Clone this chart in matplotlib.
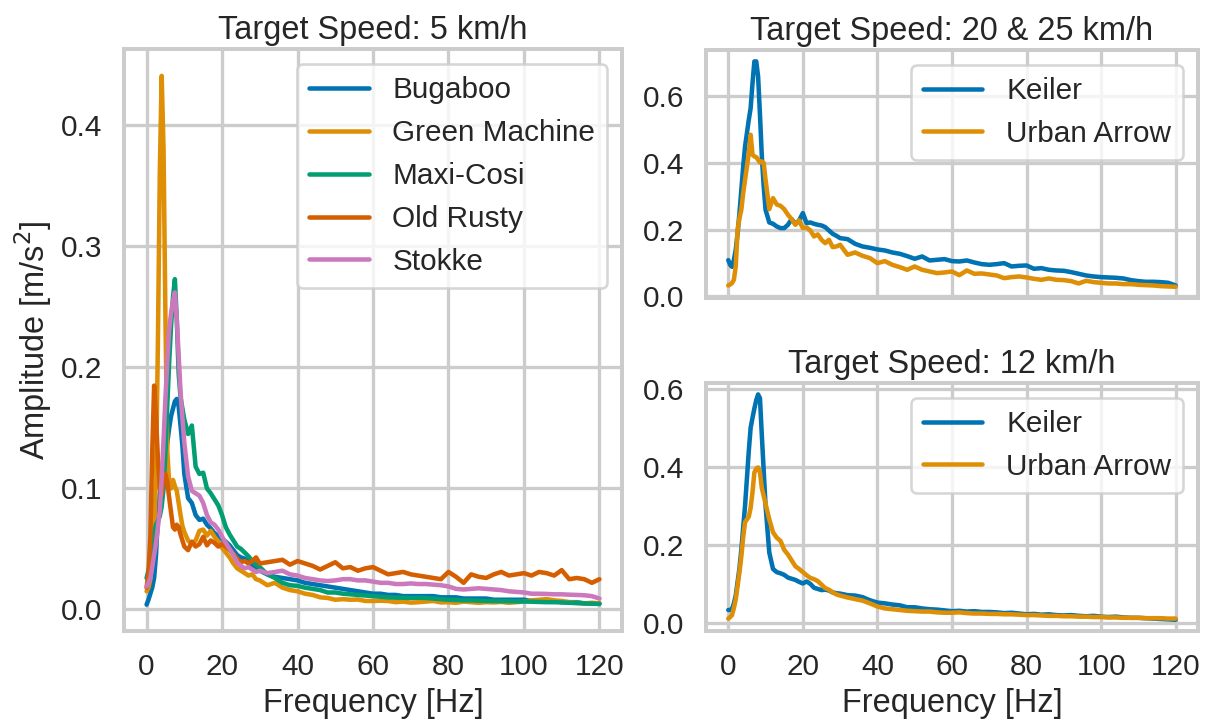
import matplotlib
matplotlib.use("Agg")
import matplotlib.pyplot as plt
import seaborn as sns
import numpy as np

sns.set_theme(context="talk", style="whitegrid", palette="colorblind", font_scale=1.04)
plt.rcParams['font.family'] = ['Liberation Sans', 'DejaVu Sans']
plt.rcParams['lines.linewidth'] = 2.6
plt.rcParams['axes.linewidth'] = 2.3
plt.rcParams['grid.linewidth'] = 1.9

# frequency grid [Hz]
freq = ([0, 0.5, 1, 1.5, 2, 2.5, 3, 3.5, 4, 4.5, 5, 5.5, 6, 6.5, 7, 7.5, 8, 8.5, 9, 9.5, 10]
        + list(range(11, 31)) + list(range(32, 121, 2)))

# ---- Target speed 5 km/h ----
bugaboo = ([0.004, 0.008, 0.013, 0.018, 0.026, 0.045, 0.076, 0.095, 0.105, 0.115, 0.125,
            0.138, 0.150, 0.160, 0.166, 0.172, 0.174, 0.168, 0.152, 0.135, 0.112]
           + [0.092, 0.088, 0.078, 0.074, 0.075, 0.070, 0.067, 0.063, 0.061, 0.058,
              0.056, 0.053, 0.049, 0.045, 0.043, 0.042, 0.040, 0.036, 0.034, 0.032]
           + [0.029, 0.027, 0.026, 0.025, 0.024, 0.022, 0.021, 0.020, 0.019, 0.018,
              0.017, 0.016, 0.015, 0.014, 0.013, 0.013, 0.012, 0.012, 0.011, 0.011,
              0.011, 0.011, 0.011, 0.010, 0.010, 0.010, 0.009, 0.009, 0.009, 0.009,
              0.008, 0.008, 0.008, 0.008, 0.008, 0.007, 0.007, 0.007, 0.007, 0.006,
              0.006, 0.006, 0.005, 0.005, 0.005])

green_machine = ([0.015, 0.018, 0.025, 0.040, 0.065, 0.110, 0.220, 0.360, 0.441, 0.380, 0.240,
                  0.130, 0.104, 0.100, 0.107, 0.102, 0.098, 0.088, 0.078, 0.069, 0.064]
                 + [0.057, 0.054, 0.057, 0.065, 0.066, 0.061, 0.065, 0.060, 0.056, 0.051,
                    0.047, 0.043, 0.038, 0.034, 0.032, 0.030, 0.028, 0.029, 0.025, 0.024]
                 + [0.020, 0.022, 0.018, 0.016, 0.015, 0.013, 0.012, 0.010, 0.0095, 0.008,
                    0.0085, 0.008, 0.0082, 0.007, 0.007, 0.0072, 0.007, 0.006, 0.0065, 0.0056,
                    0.006, 0.0065, 0.007, 0.0058, 0.006, 0.0055, 0.0065, 0.006, 0.0055, 0.006,
                    0.0058, 0.0062, 0.0055, 0.006, 0.0065, 0.0075, 0.008, 0.0085, 0.0075, 0.007,
                    0.006, 0.0055, 0.005, 0.0055, 0.005])

maxi_cosi = ([0.026, 0.032, 0.040, 0.052, 0.062, 0.070, 0.073, 0.077, 0.085, 0.100, 0.130,
              0.170, 0.205, 0.235, 0.258, 0.273, 0.240, 0.195, 0.175, 0.166, 0.157]
             + [0.145, 0.152, 0.118, 0.112, 0.113, 0.100, 0.096, 0.091, 0.086, 0.078,
                0.068, 0.062, 0.057, 0.052, 0.050, 0.047, 0.044, 0.040, 0.037, 0.035]
             + [0.029, 0.026, 0.022, 0.020, 0.0195, 0.018, 0.017, 0.016, 0.014, 0.014,
                0.013, 0.0125, 0.012, 0.0115, 0.011, 0.0105, 0.010, 0.0097, 0.0097, 0.0095,
                0.0097, 0.0095, 0.009, 0.0085, 0.008, 0.0078, 0.0075, 0.0075, 0.0072, 0.007,
                0.007, 0.0068, 0.0068, 0.0066, 0.0066, 0.0064, 0.0062, 0.006, 0.006, 0.0058,
                0.0055, 0.0052, 0.005, 0.0048, 0.0045])

old_rusty = ([0.018, 0.030, 0.060, 0.130, 0.185, 0.160, 0.125, 0.100, 0.095, 0.108, 0.112,
              0.105, 0.092, 0.080, 0.068, 0.066, 0.070, 0.068, 0.062, 0.057, 0.052]
             + [0.049, 0.056, 0.052, 0.054, 0.060, 0.053, 0.057, 0.055, 0.052, 0.054,
                0.052, 0.049, 0.046, 0.042, 0.039, 0.040, 0.038, 0.040, 0.043, 0.038]
             + [0.039, 0.040, 0.041, 0.037, 0.040, 0.038, 0.036, 0.033, 0.036, 0.039,
                0.034, 0.035, 0.032, 0.034, 0.035, 0.032, 0.029, 0.030, 0.031, 0.029,
                0.028, 0.027, 0.026, 0.025, 0.031, 0.027, 0.022, 0.029, 0.027, 0.026,
                0.029, 0.031, 0.028, 0.029, 0.030, 0.028, 0.031, 0.030, 0.028, 0.0325,
                0.025, 0.026, 0.025, 0.022, 0.025])

stokke = ([0.019, 0.022, 0.026, 0.035, 0.045, 0.055, 0.068, 0.082, 0.108, 0.140, 0.175,
           0.205, 0.232, 0.245, 0.255, 0.262, 0.240, 0.210, 0.180, 0.158, 0.138]
          + [0.110, 0.098, 0.096, 0.094, 0.088, 0.078, 0.072, 0.070, 0.066, 0.060,
             0.055, 0.050, 0.045, 0.039, 0.036, 0.034, 0.035, 0.033, 0.031, 0.032]
          + [0.030, 0.031, 0.032, 0.029, 0.028, 0.026, 0.025, 0.024, 0.0235, 0.024,
             0.025, 0.025, 0.024, 0.024, 0.023, 0.022, 0.022, 0.021, 0.021, 0.0215,
             0.021, 0.021, 0.0205, 0.020, 0.019, 0.017, 0.0165, 0.017, 0.0175, 0.017,
             0.0165, 0.016, 0.015, 0.0145, 0.014, 0.013, 0.013, 0.0128, 0.0125, 0.0125,
             0.0122, 0.012, 0.0117, 0.011, 0.009])

# ---- Target speed 20 & 25 km/h ----
keiler_fast = ([0.109, 0.095, 0.089, 0.110, 0.140, 0.190, 0.250, 0.320, 0.390, 0.450, 0.490,
                0.530, 0.565, 0.640, 0.705, 0.705, 0.660, 0.545, 0.420, 0.330, 0.260]
               + [0.222, 0.218, 0.210, 0.205, 0.205, 0.215, 0.232, 0.218, 0.228, 0.250,
                  0.220, 0.222, 0.218, 0.215, 0.213, 0.208, 0.198, 0.188, 0.182, 0.175]
               + [0.172, 0.158, 0.150, 0.146, 0.141, 0.138, 0.132, 0.128, 0.121, 0.113,
                  0.120, 0.108, 0.110, 0.112, 0.106, 0.105, 0.108, 0.102, 0.097, 0.095,
                  0.097, 0.100, 0.090, 0.092, 0.093, 0.083, 0.085, 0.080, 0.078, 0.077,
                  0.073, 0.068, 0.063, 0.060, 0.058, 0.057, 0.056, 0.054, 0.049, 0.046,
                  0.044, 0.044, 0.043, 0.041, 0.033])

urban_arrow_fast = ([0.033, 0.036, 0.040, 0.050, 0.090, 0.200, 0.235, 0.260, 0.310, 0.350, 0.390,
                     0.430, 0.485, 0.425, 0.420, 0.418, 0.410, 0.402, 0.405, 0.400, 0.350]
                    + [0.262, 0.295, 0.276, 0.272, 0.262, 0.245, 0.232, 0.215, 0.228, 0.205,
                       0.207, 0.198, 0.180, 0.186, 0.170, 0.160, 0.170, 0.148, 0.150, 0.155]
                    + [0.125, 0.132, 0.122, 0.115, 0.100, 0.106, 0.095, 0.088, 0.080, 0.090,
                       0.080, 0.075, 0.070, 0.072, 0.075, 0.064, 0.078, 0.068, 0.069, 0.066,
                       0.063, 0.055, 0.058, 0.060, 0.057, 0.053, 0.050, 0.054, 0.050, 0.049,
                       0.046, 0.039, 0.047, 0.043, 0.041, 0.039, 0.039, 0.037, 0.037, 0.035,
                       0.034, 0.033, 0.031, 0.030, 0.029])

# ---- Target speed 12 km/h ----
keiler_12 = ([0.033, 0.033, 0.035, 0.050, 0.070, 0.105, 0.140, 0.187, 0.245, 0.300, 0.370,
              0.440, 0.500, 0.525, 0.549, 0.570, 0.585, 0.575, 0.480, 0.390, 0.300]
             + [0.180, 0.138, 0.130, 0.127, 0.123, 0.116, 0.113, 0.110, 0.105, 0.101,
                0.106, 0.100, 0.090, 0.087, 0.084, 0.085, 0.083, 0.078, 0.076, 0.075]
             + [0.071, 0.070, 0.066, 0.058, 0.052, 0.050, 0.047, 0.045, 0.040, 0.040,
                0.037, 0.035, 0.034, 0.032, 0.030, 0.031, 0.029, 0.030, 0.028, 0.028,
                0.027, 0.025, 0.026, 0.024, 0.022, 0.023, 0.021, 0.022, 0.020, 0.019,
                0.020, 0.018, 0.017, 0.018, 0.016, 0.015, 0.016, 0.014, 0.013, 0.013,
                0.012, 0.011, 0.010, 0.009, 0.008])

urban_arrow_12 = ([0.011, 0.015, 0.020, 0.038, 0.060, 0.095, 0.130, 0.170, 0.220, 0.258, 0.265,
                   0.272, 0.295, 0.335, 0.385, 0.395, 0.398, 0.385, 0.345, 0.325, 0.305]
                  + [0.265, 0.232, 0.218, 0.210, 0.187, 0.175, 0.160, 0.145, 0.138, 0.130,
                     0.122, 0.115, 0.112, 0.107, 0.098, 0.089, 0.085, 0.078, 0.073, 0.070]
                  + [0.065, 0.061, 0.057, 0.050, 0.042, 0.037, 0.035, 0.033, 0.031, 0.030,
                     0.029, 0.029, 0.027, 0.026, 0.026, 0.027, 0.025, 0.024, 0.024, 0.023,
                     0.023, 0.022, 0.022, 0.021, 0.020, 0.020, 0.019, 0.018, 0.018, 0.017,
                     0.017, 0.016, 0.016, 0.015, 0.015, 0.014, 0.014, 0.013, 0.013, 0.013,
                     0.012, 0.012, 0.012, 0.011, 0.011])

labels_5 = ["Bugaboo", "Green Machine", "Maxi-Cosi", "Old Rusty", "Stokke"]
series_5 = [bugaboo, green_machine, maxi_cosi, old_rusty, stokke]
labels_r = ["Keiler", "Urban Arrow"]
xticks = [0, 20, 40, 60, 80, 100, 120]

pal = sns.color_palette("colorblind")
colors_5 = [pal[0], pal[1], pal[2], pal[3], pal[4]]

fig = plt.figure(figsize=(9.72, 5.816), dpi=125)
ax_l = fig.add_axes([0.102, 0.132, 0.410, 0.800])
ax_b = fig.add_axes([0.581, 0.132, 0.405, 0.341])
ax_t = fig.add_axes([0.581, 0.590, 0.405, 0.341], sharex=ax_b)

for lab, s, c in zip(labels_5, series_5, colors_5):
    ax_l.plot(freq, s, label=lab, color=c)
ax_l.set_title("Target Speed: 5 km/h")
ax_l.set_xlabel("Frequency [Hz]")
ax_l.set_ylabel("Amplitude [m/s$^2$]")
ax_l.legend(loc="upper right")
ax_l.set_xticks(xticks)

for lab, s, c in zip(labels_r, [keiler_fast, urban_arrow_fast], [pal[0], pal[1]]):
    ax_t.plot(freq, s, label=lab, color=c)
ax_t.set_title("Target Speed: 20 & 25 km/h")
ax_t.legend(loc="upper right")
ax_t.tick_params(labelbottom=False)

for lab, s, c in zip(labels_r, [keiler_12, urban_arrow_12], [pal[0], pal[1]]):
    ax_b.plot(freq, s, label=lab, color=c)
ax_b.set_title("Target Speed: 12 km/h")
ax_b.set_xlabel("Frequency [Hz]")
ax_b.legend(loc="upper right")
ax_b.set_xticks(xticks)

fig.savefig("out.png", dpi=125)
